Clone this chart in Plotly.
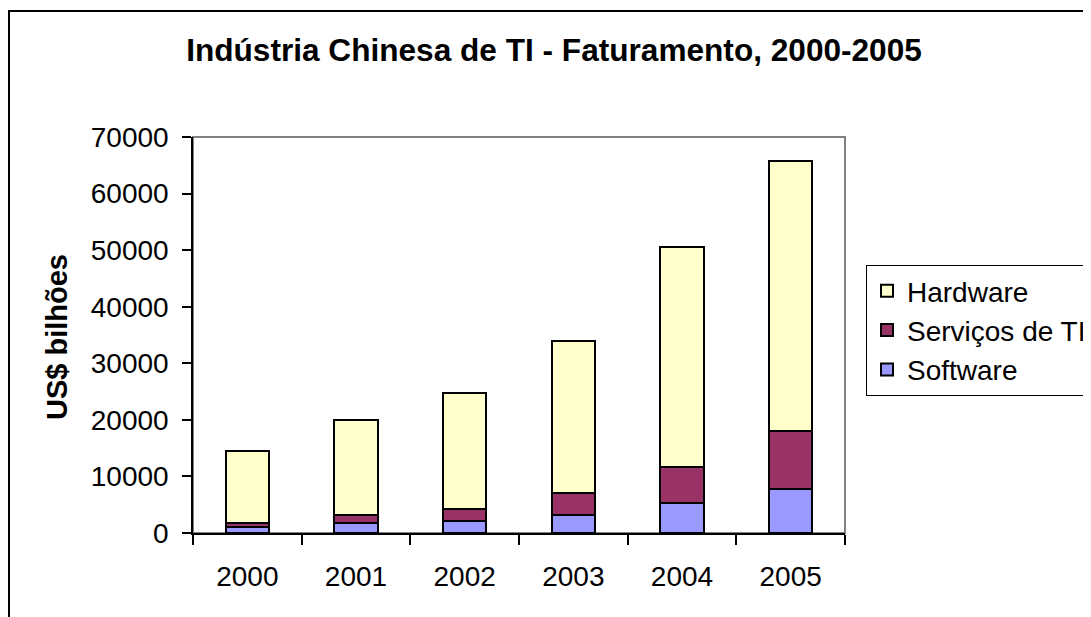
import plotly.graph_objects as go

years = ["2000", "2001", "2002", "2003", "2004", "2005"]
software = [1000, 1700, 2100, 3100, 5250, 7700]
servicos = [800, 1400, 2150, 3900, 6350, 10300]
hardware = [12700, 16800, 20550, 27000, 39000, 47800]
y_ticks = [0, 10000, 20000, 30000, 40000, 50000, 60000, 70000]

OFF = 8  # page body margin
W, H = 1091 - OFF, 617 - OFF
L, R, T, B = 193 - OFF, 845 - OFF, 137 - OFF, 533 - OFF
pw, ph = R - L, B - T

def px_x(p):
    return (p - OFF - L) / pw

def px_y(p):
    return (B - (p - OFF)) / ph

FONT = "Liberation Sans, Arial, sans-serif"

fig = go.Figure()
series = [("Software", software, "#9999FF"),
          ("Serviços de TI", servicos, "#993366"),
          ("Hardware", hardware, "#FFFFCC")]
for name, vals, col in series:
    fig.add_trace(go.Bar(x=years, y=vals, name=name,
                         marker=dict(color=col, line=dict(color="black", width=2))))

fig.update_layout(
    width=W, height=H,
    margin=dict(l=L, r=W - R, t=T, b=H - B, pad=0, autoexpand=False),
    barmode="stack", bargap=0.6,
    paper_bgcolor="white", plot_bgcolor="white",
    font=dict(family=FONT, size=28, color="black"),
    title=dict(text="<b>Indústria Chinesa de TI - Faturamento, 2000-2005</b>",
               font=dict(family=FONT, size=31.6, color="black"),
               x=(554 - OFF) / W, xref="container", xanchor="center",
               y=1 - (50 - OFF) / H, yref="container", yanchor="middle"),
    showlegend=True,
    legend=dict(x=(866 - OFF) / W, y=1 - (265 - OFF) / H, xanchor="left", yanchor="top",
                xref="container", yref="container",
                bgcolor="white", bordercolor="black", borderwidth=1,
                traceorder="reversed", font=dict(family=FONT, size=28, color="black"),
                tracegroupgap=0, entrywidth=240, entrywidthmode="pixels"),
    xaxis=dict(type="category", range=[-0.5, 5.5], showline=True, linecolor="black",
               linewidth=1.5, ticks="outside", tickson="boundaries", ticklen=10,
               tickcolor="black", tickwidth=1.5, showgrid=False, zeroline=False,
               ticklabelstandoff=18, tickfont=dict(family=FONT, size=28, color="black")),
    yaxis=dict(range=[0, 70000], tickvals=y_ticks, ticktext=[str(v) for v in y_ticks],
               showline=True, linecolor="black", linewidth=1.5, ticks="outside",
               ticklen=9, tickcolor="black", tickwidth=1.5, showgrid=False,
               zeroline=False, ticklabelstandoff=8,
               tickfont=dict(family=FONT, size=28, color="black")),
    shapes=[
        dict(type="rect", xref="paper", yref="paper", x0=0, x1=1, y0=0, y1=1,
             line=dict(color="#808080", width=2), layer="below"),
        dict(type="rect", xref="paper", yref="paper", x0=px_x(9), x1=px_x(1200),
             y0=px_y(700), y1=px_y(11), line=dict(color="black", width=2)),
    ],
    annotations=[
        dict(text="<b>US$ bilhões</b>", xref="paper", yref="paper",
             x=px_x(57), y=px_y(337), xanchor="center", yanchor="middle",
             textangle=-90, showarrow=False,
             font=dict(family=FONT, size=29, color="black")),
    ],
)

fig.write_html("out.html")
